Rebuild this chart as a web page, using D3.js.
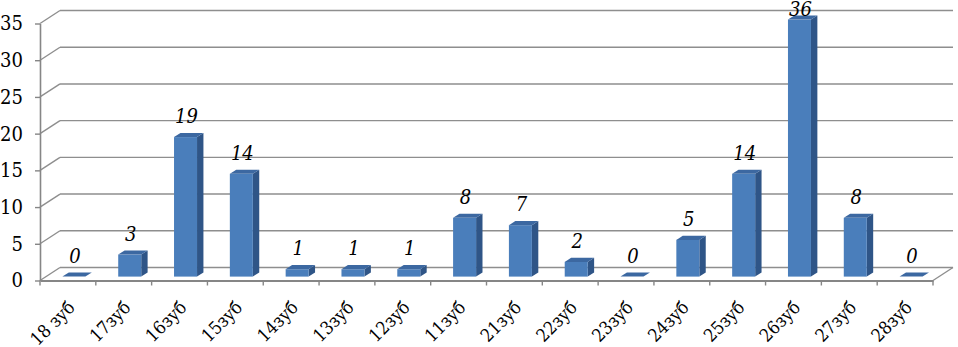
<!DOCTYPE html>
<html>
<head>
<meta charset="utf-8">
<script src="https://cdn.jsdelivr.net/npm/d3@7/dist/d3.min.js"></script>
<style>
  html, body { margin: 0; padding: 0; background: #fff; }
  svg { display: block; }
</style>
</head>
<body>
<svg id="chart" width="958" height="347"></svg>
<script>
const categories = ["18 зуб","17зуб","16зуб","15зуб","14зуб","13зуб","12зуб","11зуб","21зуб","22зуб","23зуб","24зуб","25зуб","26зуб","27зуб","28зуб"];
const values = [0, 3, 19, 14, 1, 1, 1, 8, 7, 2, 0, 5, 14, 36, 8, 0];
const yTicks = [0, 5, 10, 15, 20, 25, 30, 35];

const FONT = "'DejaVu Serif Condensed', 'DejaVu Serif'";
const svg = d3.select("#chart");
const DX = 20, DY = -13;
const T0 = 0.30, T1 = 0.62;
const barW = 23;

const x = d3.scaleBand().domain(categories).range([40, 933]).paddingInner(0).paddingOuter(0);
const y = d3.scaleLinear().domain([0, 35]).range([280.5, 23.5]);
const yMax = 35;

const gridColor = "#8e8e8e";
const grid = svg.append("g");
yTicks.forEach(t => {
  const yy = y(t);
  grid.append("line")
    .attr("x1", 40 + DX).attr("x2", 933 + DX)
    .attr("y1", yy + DY).attr("y2", yy + DY)
    .attr("stroke", gridColor).attr("stroke-width", 1.4);
  grid.append("line")
    .attr("x1", 40).attr("y1", yy)
    .attr("x2", 40 + DX).attr("y2", yy + DY)
    .attr("stroke", gridColor).attr("stroke-width", 1.4);
});
grid.append("line")
  .attr("x1", 933).attr("y1", y(0))
  .attr("x2", 933 + DX).attr("y2", y(0) + DY)
  .attr("stroke", gridColor).attr("stroke-width", 1.4);

const colFront = "#4a7ebb", colSide = "#2f5587", colTop = "#3c68a1";
const bars = svg.append("g");
categories.forEach((c, i) => {
  const v = Math.min(values[i], yMax);
  const cx = x(c) + x.bandwidth() / 2 + T0 * DX;
  const xl = cx - barW / 2, xr = cx + barW / 2;
  const yb = y(0) + T0 * DY, yt = y(v) + T0 * DY;
  const ddx = (T1 - T0) * DX, ddy = (T1 - T0) * DY;
  if (v > 0) {
    bars.append("path")
      .attr("d", `M${xr},${yt} L${xr + ddx},${yt + ddy} L${xr + ddx},${yb + ddy} L${xr},${yb} Z`)
      .attr("fill", colSide);
    bars.append("rect")
      .attr("x", xl).attr("y", yt).attr("width", barW).attr("height", yb - yt)
      .attr("fill", colFront);
  }
  bars.append("path")
    .attr("d", `M${xl},${yt} L${xl + ddx},${yt + ddy} L${xr + ddx},${yt + ddy} L${xr},${yt} Z`)
    .attr("fill", colTop);
  bars.append("text")
    .attr("x", cx + 1)
    .attr("y", Math.max(16, yt - 14))
    .attr("text-anchor", "middle")
    .style("font-family", FONT)
    .style("font-style", "italic")
    .style("font-size", "20px")
    .attr("fill", "#000")
    .text(values[i]);
});

const axisColor = "#868686";
const yAxis = d3.axisLeft(y).tickValues(yTicks).tickSize(5).tickSizeOuter(0).tickPadding(12);
const gy = svg.append("g").attr("transform", "translate(40,0)").call(yAxis);
gy.attr("font-family", null).attr("font-size", null);
gy.select(".domain").attr("stroke", axisColor).attr("stroke-width", 1.6);
gy.selectAll(".tick line").attr("stroke", axisColor).attr("stroke-width", 1.4);
gy.selectAll(".tick text")
  .style("font-family", FONT)
  .style("font-size", "20px").attr("fill", "#000");

const xAxis = d3.axisBottom(x).tickSize(0).tickSizeOuter(0).tickPadding(0);
const gx = svg.append("g").attr("transform", `translate(0,${y(0)})`).call(xAxis);
gx.attr("font-family", null).attr("font-size", null);
gx.select(".domain").attr("stroke", axisColor).attr("stroke-width", 2);
gx.selectAll(".tick text")
  .style("font-family", FONT)
  .style("font-size", "18px").attr("fill", "#000")
  .attr("text-anchor", "end")
  .attr("dy", 0)
  .attr("transform", "translate(8,28) rotate(-45)");
const bounds = categories.map(c => x(c)).concat([x.range()[1]]);
gx.selectAll(".bound").data(bounds).enter().append("line")
  .attr("class", "bound")
  .attr("x1", d => d).attr("x2", d => d)
  .attr("y1", 0).attr("y2", 5)
  .attr("stroke", axisColor).attr("stroke-width", 1.4);
</script>
</body>
</html>
